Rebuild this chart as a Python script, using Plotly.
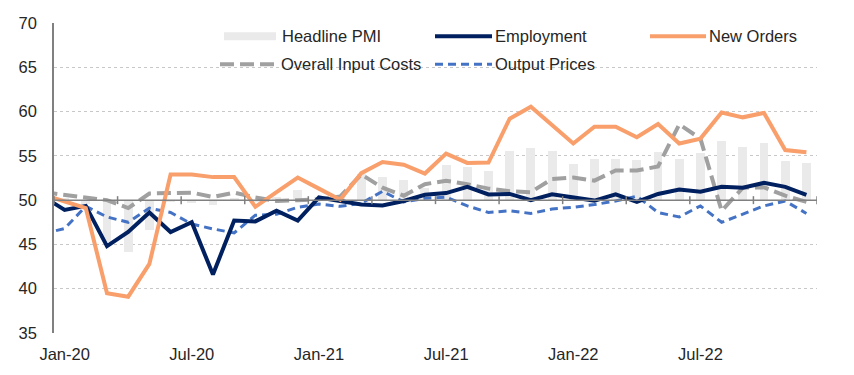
import plotly.graph_objects as go

# ---------------- data ----------------
months = ["Dec-19",
          "Jan-20", "Feb-20", "Mar-20", "Apr-20", "May-20", "Jun-20",
          "Jul-20", "Aug-20", "Sep-20", "Oct-20", "Nov-20", "Dec-20",
          "Jan-21", "Feb-21", "Mar-21", "Apr-21", "May-21", "Jun-21",
          "Jul-21", "Aug-21", "Sep-21", "Oct-21", "Nov-21", "Dec-21",
          "Jan-22", "Feb-22", "Mar-22", "Apr-22", "May-22", "Jun-22",
          "Jul-22", "Aug-22", "Sep-22", "Oct-22", "Nov-22", "Dec-22"]

headline_pmi = [None,
                50.2, 49.6, 45.3, 44.1, 46.6, 49.8,
                49.7, 49.45, 50.2, 49.8, 50.4, 51.2,
                50.4, 50.6, 53.0, 52.6, 52.3, 51.4,
                54.0, 53.7, 53.3, 55.6, 55.85, 55.55,
                54.1, 54.7, 54.7, 54.55, 55.45, 54.7,
                55.3, 56.65, 56.0, 56.5, 54.45, 54.2]

employment = [50.4,
              48.9, 49.35, 44.8, 46.4, 48.6, 46.4,
              47.5, 41.6, 47.7, 47.6, 48.8, 47.7,
              50.3, 49.9, 49.5, 49.4, 49.9, 50.6,
              50.8, 51.5, 50.65, 50.7, 50.0, 50.65,
              50.35, 49.95, 50.65, 49.8, 50.7, 51.2,
              50.95, 51.5, 51.4, 51.95, 51.5, 50.6]

new_orders = [50.6,
              49.8, 49.1, 39.5, 39.1, 42.8, 52.9,
              52.9, 52.6, 52.6, 49.25, 50.9, 52.55,
              51.3, 50.05, 53.05, 54.3, 54.0, 53.0,
              55.25, 54.2, 54.25, 59.2, 60.55, 58.4,
              56.4, 58.3, 58.3, 57.1, 58.6, 56.4,
              56.95, 59.9, 59.35, 59.85, 55.65, 55.4]

input_costs = [50.9,
               50.6, 50.2, 50.0, 49.1, 50.75, 50.8,
               50.85, 50.35, 50.85, 50.3, 49.9, 50.0,
               50.1, 50.4, 52.9, 51.4, 50.5, 51.8,
               52.2, 51.8, 51.3, 51.0, 50.9, 52.4,
               52.55, 52.2, 53.35, 53.35, 53.8, 58.55,
               56.95, 48.8, 51.4, 51.45, 50.5, 49.8]

output_prices = [46.2,
                 46.8, 49.3, 48.1, 47.5, 49.1, 48.6,
                 47.3, 46.75, 46.3, 48.3, 48.4, 49.2,
                 49.55, 49.3, 49.65, 51.0, 49.8, 50.2,
                 50.35, 49.35, 48.6, 48.8, 48.5, 49.0,
                 49.2, 49.5, 49.9, 50.45, 48.6, 48.1,
                 49.35, 47.5, 48.4, 49.35, 49.9, 48.5]

y_ticks = [35, 40, 45, 50, 55, 60, 65, 70]
x_label_step = 6
x_minor_step = 3

# ---------------- figure ----------------
xpos = list(range(-1, len(months) - 1))   # Dec-19 sits just left of the axis (clipped)
FONT = "Liberation Sans, Arial, sans-serif"
TXT = "#262626"
FS = 16.5

NAVY = "#002060"
ORANGE = "#F89F6B"
GREY = "#A0A0A0"
BLUE = "#4472C4"
BAR = "#EAEAEA"
AXIS = "#808080"

fig = go.Figure()

bar_x = [x for x, v in zip(xpos, headline_pmi) if v is not None]
bar_v = [v - 50 for v in headline_pmi if v is not None]
fig.add_trace(go.Bar(x=bar_x, y=bar_v, base=50, width=0.42,
                     marker=dict(color=BAR, line=dict(width=0)),
                     name="Headline PMI", showlegend=False))

fig.add_trace(go.Scatter(x=xpos, y=input_costs, mode="lines", name="Overall Input Costs",
                         line=dict(color=GREY, width=4, dash="14px,6px"), showlegend=False))
fig.add_trace(go.Scatter(x=xpos, y=output_prices, mode="lines", name="Output Prices",
                         line=dict(color=BLUE, width=3, dash="8px,5px"), showlegend=False))
fig.add_trace(go.Scatter(x=xpos, y=employment, mode="lines", name="Employment",
                         line=dict(color=NAVY, width=4), showlegend=False))
fig.add_trace(go.Scatter(x=xpos, y=new_orders, mode="lines", name="New Orders",
                         line=dict(color=ORANGE, width=4), showlegend=False))

n = len(months) - 1
xr = [-0.5, n - 0.5]

tick_idx = list(range(0, n, x_label_step))
fig.update_layout(
    width=854, height=375,
    margin=dict(l=54, r=37, t=23, b=37),
    paper_bgcolor="white", plot_bgcolor="white",
    font=dict(family=FONT, size=FS, color=TXT),
    bargap=0,
    xaxis=dict(range=xr, tickmode="array", tickvals=tick_idx,
               ticktext=[months[i + 1] for i in tick_idx],
               showgrid=False, zeroline=False, showline=False, ticks="",
               ticklabelstandoff=9, tickfont=dict(size=FS, color=TXT, family=FONT)),
    yaxis=dict(range=[35, 70], tickvals=y_ticks, showgrid=True,
               gridcolor="#C8C8C8", griddash="dot", gridwidth=1,
               zeroline=False, showline=True, linecolor=AXIS, linewidth=1.5,
               ticks="", ticklabelstandoff=12,
               tickfont=dict(size=FS, color=TXT, family=FONT)),
)

# horizontal category axis crossing at 50, with crossing tick marks
fig.add_shape(type="line", xref="x", yref="y", x0=xr[0], x1=xr[1], y0=50, y1=50,
              line=dict(color=AXIS, width=1.5), layer="above")
for k in range(0, n + 1, x_minor_step):
    fig.add_shape(type="line", xref="x", yref="y", x0=-0.5 + k, x1=-0.5 + k,
                  y0=49.55, y1=50.45, line=dict(color=AXIS, width=1.5), layer="above")

# ---------------- manual legend ----------------
def px2x(px):
    return (px - 54) / 763.0

def py2y(py):
    return (338 - py) / 315.0

legend_rows = [
    dict(kind="bar", x0=224, x1=276, tx=280, y=36.5, text="Headline PMI"),
    dict(kind="line", x0=435, x1=492, tx=493, y=36.5, text="Employment",
         color=NAVY, width=4, dash="solid"),
    dict(kind="line", x0=650, x1=706, tx=707, y=36.5, text="New Orders",
         color=ORANGE, width=4, dash="solid"),
    dict(kind="line", x0=220, x1=276, tx=279, y=65, text="Overall Input Costs",
         color=GREY, width=4, dash="14px,6px"),
    dict(kind="line", x0=435, x1=492, tx=493, y=65, text="Output Prices",
         color=BLUE, width=3, dash="8px,5px"),
]
for it in legend_rows:
    if it["kind"] == "bar":
        fig.add_shape(type="rect", xref="paper", yref="paper",
                      x0=px2x(it["x0"]), x1=px2x(it["x1"]),
                      y0=py2y(it["y"] + 4), y1=py2y(it["y"] - 4),
                      fillcolor=BAR, line=dict(width=0))
    else:
        fig.add_shape(type="line", xref="paper", yref="paper",
                      x0=px2x(it["x0"]), x1=px2x(it["x1"]),
                      y0=py2y(it["y"]), y1=py2y(it["y"]),
                      line=dict(color=it["color"], width=it["width"], dash=it["dash"]))
    fig.add_annotation(xref="paper", yref="paper", x=px2x(it["tx"]), y=py2y(it["y"]),
                       text=it["text"], showarrow=False, xanchor="left", yanchor="middle",
                       font=dict(size=FS, color=TXT, family=FONT))

fig.write_html("out.html", config={"displayModeBar": False},
               post_script="document.body.style.margin='0px';document.body.style.overflow='hidden';")
